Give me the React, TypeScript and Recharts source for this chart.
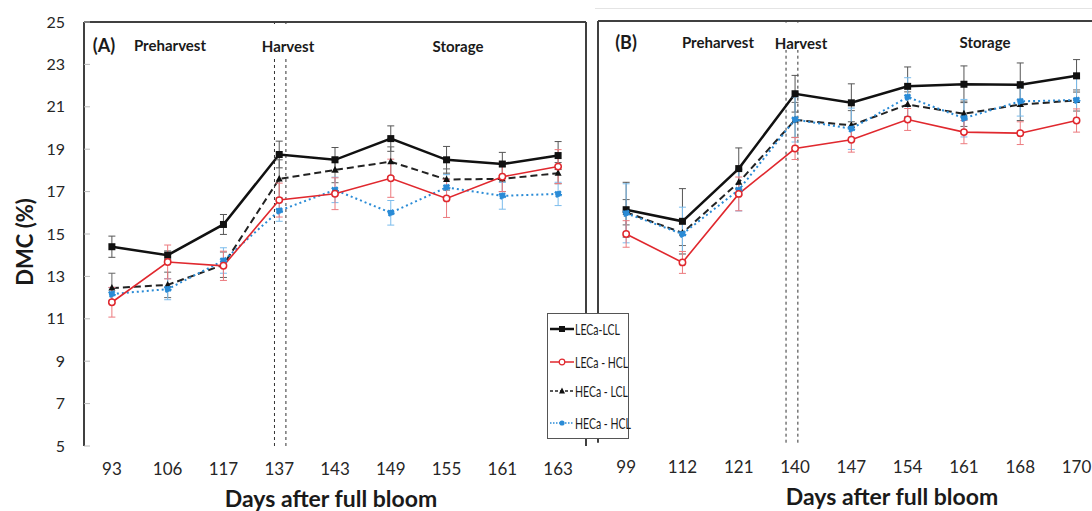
import { LineChart, Line, XAxis, YAxis, ErrorBar, ReferenceLine } from "recharts";

// days after full bloom
const daysA = ["93", "106", "117", "137", "143", "149", "155", "161", "163"];
const daysB = ["99", "112", "121", "140", "147", "154", "161", "168", "170"];

// panel A, DMC (%)
const aLecaLcl = [14.4, 14.0, 15.45, 18.75, 18.5, 19.5, 18.5, 18.3, 18.7];
const aLecaHcl = [11.78, 13.68, 13.5, 16.6, 16.9, 17.63, 16.68, 17.7, 18.18];
const aHecaLcl = [12.45, 12.6, 13.55, 17.6, 18.02, 18.41, 17.57, 17.6, 17.87];
const aHecaHcl = [12.17, 12.4, 13.75, 16.1, 17.08, 16.0, 17.2, 16.8, 16.89];
const aLecaLclErr = [0.5, 0.2, 0.47, 0.63, 0.58, 0.6, 0.63, 0.55, 0.66];
const aLecaHclErr = [0.7, 0.8, 0.69, 0.8, 0.75, 0.9, 0.9, 0.7, 0.8];
const aHecaLclErr = [0.7, 0.6, 0.6, 0.9, 0.6, 0.7, 0.5, 0.6, 0.5];
const aHecaHclErr = [0.3, 0.5, 0.6, 0.5, 0.6, 0.58, 0.6, 0.63, 0.55];

// panel B, DMC (%)
const bLecaLcl = [16.05, 15.5, 18.0, 21.55, 21.12, 21.9, 22.0, 21.98, 22.4];
const bLecaHcl = [14.9, 13.55, 16.8, 18.95, 19.37, 20.33, 19.73, 19.68, 20.28];
const bHecaLcl = [15.93, 14.95, 17.35, 20.31, 20.05, 21.04, 20.6, 21.04, 21.23];
const bHecaHcl = [15.88, 14.9, 16.99, 20.33, 19.89, 21.39, 20.39, 21.19, 21.25];
const bLecaLclErr = [1.3, 1.55, 0.98, 0.87, 0.9, 0.92, 0.87, 1.03, 0.77];
const bLecaHclErr = [0.63, 0.52, 0.8, 0.52, 0.59, 0.52, 0.55, 0.54, 0.55];
const bHecaLclErr = [0.6, 0.6, 0.6, 0.83, 0.7, 0.6, 0.6, 0.76, 0.5];
const bHecaHclErr = [1.4, 1.27, 1.0, 1.07, 0.98, 0.92, 0.89, 0.7, 1.03];

const yTicks = [5, 7, 9, 11, 13, 15, 17, 19, 21, 23, 25];
// category boundaries (Excel style tick marks between categories)
const bounds = [1, 2, 3, 4, 5, 6, 7, 8, 9];
// harvest window markers, in category units from the left of the plot
const harvestA = [3.415, 3.62];
const harvestB = [3.34, 3.55];

const FONT = "Lato, 'Open Sans', sans-serif";
const AXIS = "#404040";
const RED = "#e0282e";
const BLUE = "#2a8bd6";

const makeRows = (days: string[], s1: number[], s2: number[], s3: number[], s4: number[], e1: number[], e2: number[], e3: number[], e4: number[]) =>
  days.map((d, i) => ({
    day: d,
    pos: i + 0.5,
    lecaLcl: s1[i],
    lecaHcl: s2[i],
    hecaLcl: s3[i],
    hecaHcl: s4[i],
    lecaLclErr: e1[i],
    lecaHclErr: e2[i],
    hecaLclErr: e3[i],
    hecaHclErr: e4[i],
  }));

const dataA = makeRows(daysA, aLecaLcl, aLecaHcl, aHecaLcl, aHecaHcl, aLecaLclErr, aLecaHclErr, aHecaLclErr, aHecaHclErr);
const dataB = makeRows(daysB, bLecaLcl, bLecaHcl, bHecaLcl, bHecaHcl, bLecaLclErr, bLecaHclErr, bHecaLclErr, bHecaHclErr);
const labelPos = daysA.map((_, i) => i + 0.5);

const squareDot = (p: any) => <rect key={`sq${p.index}`} x={p.cx - 3.5} y={p.cy - 3.5} width={7} height={7} fill="#111" />;
const triDot = (p: any) => <polygon key={`tr${p.index}`} points={`${p.cx},${p.cy - 4} ${p.cx - 3.5},${p.cy + 2.5} ${p.cx + 3.5},${p.cy + 2.5}`} fill="#111" />;

const series = () => [
  <Line key="l1" xAxisId="num" dataKey="lecaLcl" stroke="#111" strokeWidth={2.5} dot={squareDot} isAnimationActive={false}>
    <ErrorBar dataKey="lecaLclErr" width={3.5} stroke="#555" strokeWidth={1} direction="y" />
  </Line>,
  <Line key="l3" xAxisId="num" dataKey="hecaLcl" stroke="#222" strokeWidth={2} strokeDasharray="7 4" dot={triDot} isAnimationActive={false}>
    <ErrorBar dataKey="hecaLclErr" width={3.5} stroke="#666" strokeWidth={1} direction="y" />
  </Line>,
  <Line key="l4" xAxisId="num" dataKey="hecaHcl" stroke={BLUE} strokeWidth={2} strokeDasharray="2 3" dot={{ r: 3, fill: BLUE, stroke: BLUE }} isAnimationActive={false}>
    <ErrorBar dataKey="hecaHclErr" width={3.5} stroke="#7bbcec" strokeWidth={1} direction="y" />
  </Line>,
  <Line key="l2" xAxisId="num" dataKey="lecaHcl" stroke={RED} strokeWidth={1.6} dot={{ r: 3.2, fill: "#fff", stroke: RED, strokeWidth: 1.5 }} isAnimationActive={false}>
    <ErrorBar dataKey="lecaHclErr" width={3.5} stroke="#ec7a7e" strokeWidth={1} direction="y" />
  </Line>,
];

const Txt = ({ x, y, size, children }: any) => (
  <div
    style={{
      position: "absolute",
      left: x,
      top: y,
      transform: "translate(-50%, -50%)",
      fontSize: size,
      fontWeight: 700,
      lineHeight: 1,
      whiteSpace: "nowrap",
      color: "#1a1a1a",
      fontFamily: FONT,
    }}
  >
    {children}
  </div>
);

const legendItems = [
  { name: "LECa-LCL", color: "#111", dash: undefined, width: 2.5, mark: "square" },
  { name: "LECa - HCL", color: RED, dash: undefined, width: 1.5, mark: "hollow" },
  { name: "HECa - LCL", color: "#222", dash: "3 2", width: 1.5, mark: "tri" },
  { name: "HECa - HCL", color: BLUE, dash: "1.5 1.5", width: 1.5, mark: "dot" },
];
const legendRows = [329, 362, 391, 423];

const axes = (days: string[], labelHeight: number, labelMargin: number) => [
  <XAxis key="num" xAxisId="num" dataKey="pos" type="number" domain={[0, 9]} allowDataOverflow ticks={bounds} height={0} tickSize={-5} tickFormatter={() => ""} axisLine={{ stroke: AXIS, strokeWidth: 2 }} tickLine={{ stroke: "#bbb" }} />,
  <XAxis
    key="lab"
    xAxisId="lab"
    dataKey="pos"
    type="number"
    domain={[0, 9]}
    allowDataOverflow
    ticks={labelPos}
    height={labelHeight}
    axisLine={false}
    tickLine={false}
    tickSize={0}
    tickMargin={labelMargin}
    interval={0}
    tickFormatter={(v: number) => days[Math.round(v - 0.5)]}
    tick={{ fill: "#262626", fontSize: 17, fontFamily: FONT }}
  />,
];

export default function App() {
  return (
    <div style={{ position: "absolute", left: 0, top: 0, width: 1092, height: 511, overflow: "hidden", background: "#fff", fontFamily: FONT }}>
      <div style={{ position: "absolute", left: 595, top: 8, width: 497, borderTop: "1px solid #e4e4e4" }} />

      {/* panel A */}
      <div style={{ position: "absolute", left: 0, top: 0 }}>
        <LineChart width={600} height={511} data={dataA} margin={{ top: 22, right: 14, bottom: 0, left: 0 }}>
          {axes(daysA, 65, 17)}
          <YAxis type="number" domain={[5, 25]} ticks={yTicks} width={84} tickSize={-6} tickMargin={25} axisLine={{ stroke: AXIS, strokeWidth: 2 }} tickLine={{ stroke: "#bbb" }} tick={{ fill: "#262626", fontSize: 16, fontFamily: FONT }} />
          {harvestA.map((h) => (
            <ReferenceLine key={h} xAxisId="num" x={h} stroke="#333" strokeDasharray="3 3" />
          ))}
          <ReferenceLine xAxisId="num" y={25} stroke={AXIS} strokeWidth={2} />
          <ReferenceLine xAxisId="num" x={9} stroke={AXIS} strokeWidth={2} />
          {series()}
        </LineChart>
      </div>

      {/* panel B */}
      <div style={{ position: "absolute", left: 590, top: 0 }}>
        <LineChart width={520} height={511} data={dataB} margin={{ top: 21, right: 5.3, bottom: 0, left: 0 }}>
          {axes(daysB, 68.3, 18)}
          <YAxis type="number" domain={[5, 25]} ticks={yTicks} width={8} tick={false} tickLine={false} axisLine={{ stroke: AXIS, strokeWidth: 2 }} />
          {harvestB.map((h) => (
            <ReferenceLine key={h} xAxisId="num" x={h} stroke="#333" strokeDasharray="3 3" />
          ))}
          <ReferenceLine xAxisId="num" y={25} stroke={AXIS} strokeWidth={2} />
          {series()}
        </LineChart>
      </div>

      {/* white gaps above the harvest markers, behind the "Harvest" labels */}
      <div style={{ position: "absolute", left: 262, top: 24, width: 52, height: 33, background: "#fff" }} />
      <div style={{ position: "absolute", left: 775, top: 23, width: 52, height: 27, background: "#fff" }} />

      {/* annotations */}
      <Txt x={104} y={45} size={18}>(A)</Txt>
      <Txt x={170} y={45} size={15}>Preharvest</Txt>
      <Txt x={288} y={46} size={15}>Harvest</Txt>
      <Txt x={458} y={46} size={15}>Storage</Txt>
      <Txt x={626} y={42} size={18}>(B)</Txt>
      <Txt x={718} y={42} size={15}>Preharvest</Txt>
      <Txt x={801} y={43} size={15}>Harvest</Txt>
      <Txt x={985} y={42} size={15}>Storage</Txt>
      <Txt x={331} y={498} size={23}>Days after full bloom</Txt>
      <Txt x={892} y={496} size={23}>Days after full bloom</Txt>
      <div
        style={{
          position: "absolute",
          left: 25,
          top: 242,
          transform: "translate(-50%, -50%) rotate(-90deg)",
          fontSize: 22,
          fontWeight: 700,
          lineHeight: 1,
          whiteSpace: "nowrap",
          color: "#1a1a1a",
        }}
      >
        DMC (%)
      </div>

      {/* legend */}
      <div style={{ position: "absolute", left: 547, top: 313, width: 80, height: 124, background: "#fff", border: "1.5px solid #555" }} />
      {legendItems.map((it, i) => (
        <div key={it.name} style={{ position: "absolute", left: 549, top: legendRows[i] - 10, height: 20, display: "flex", alignItems: "center" }}>
          <svg width={26} height={20}>
            <line x1={1} y1={10} x2={25} y2={10} stroke={it.color} strokeWidth={it.width} strokeDasharray={it.dash} />
            {it.mark === "square" && <rect x={10} y={7} width={6} height={6} fill="#111" />}
            {it.mark === "hollow" && <circle cx={13} cy={10} r={2.8} fill="#fff" stroke={RED} strokeWidth={1.2} />}
            {it.mark === "tri" && <polygon points="13,6.5 10,12.5 16,12.5" fill="#111" />}
            {it.mark === "dot" && <circle cx={13} cy={10} r={2.6} fill={BLUE} />}
          </svg>
          <span style={{ fontSize: 15, color: "#1a1a1a", whiteSpace: "nowrap", display: "inline-block", transform: "scaleX(0.7)", transformOrigin: "left center" }}>{it.name}</span>
        </div>
      ))}
    </div>
  );
}
